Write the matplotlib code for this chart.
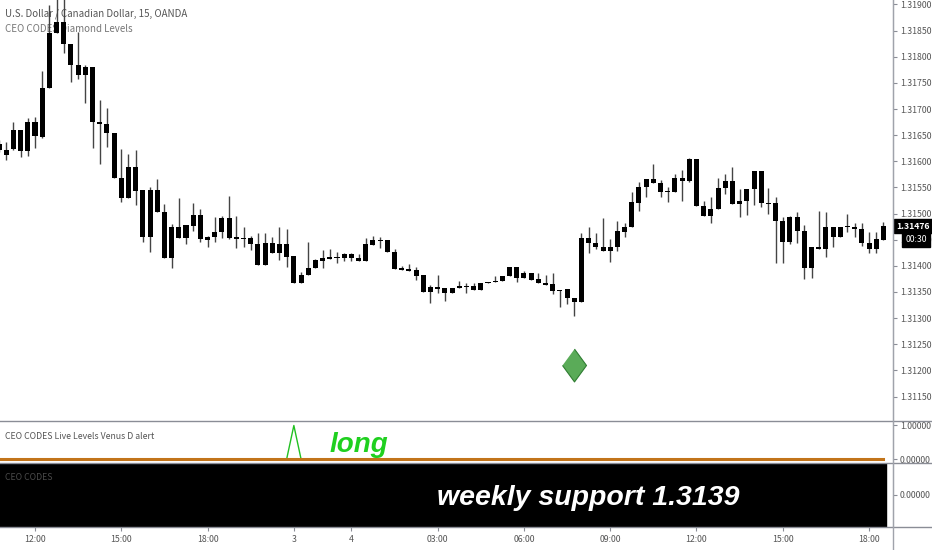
import numpy as np
import matplotlib.pyplot as plt
from matplotlib.lines import Line2D
from matplotlib.ticker import FormatStrFormatter
import matplotlib.transforms as mtransforms

plt.rcParams['font.family'] = ['Noto Sans CJK JP', 'DejaVu Sans']

# USDCAD 15 min candles (first bar sits 5 bars before 12:00)
opens = [1.31633, 1.31622, 1.31624, 1.31660, 1.31620, 1.31675, 1.31647, 1.31740, 1.31846, 1.31867,
         1.31824, 1.31784, 1.31765, 1.31780, 1.31675, 1.31671, 1.31654, 1.31568, 1.31530, 1.31589,
         1.31545, 1.31455, 1.31545, 1.31503, 1.31415, 1.31474, 1.31453, 1.31476, 1.31497, 1.31455,
         1.31455, 1.31465, 1.31492, 1.31455, 1.31453, 1.31453, 1.31442, 1.31402, 1.31444, 1.31425,
         1.31442, 1.31419, 1.31367, 1.31383, 1.31396, 1.31409, 1.31413, 1.31417, 1.31415, 1.31423,
         1.31415, 1.31409, 1.31440, 1.31449, 1.31449, 1.31427, 1.31396, 1.31394, 1.31392, 1.31383,
         1.31350, 1.31360, 1.31358, 1.31348, 1.31358, 1.31361, 1.31361, 1.31354, 1.31367, 1.31369,
         1.31371, 1.31381, 1.31398, 1.31377, 1.31386, 1.31375, 1.31367, 1.31365, 1.31354, 1.31356,
         1.31339, 1.31331, 1.31453, 1.31444, 1.31436, 1.31428, 1.31436, 1.31465, 1.31474, 1.31520,
         1.31551, 1.31566, 1.31559, 1.31541, 1.31541, 1.31568, 1.31562, 1.31604, 1.31515, 1.31495,
         1.31509, 1.31549, 1.31562, 1.31518, 1.31524, 1.31547, 1.31581, 1.31520, 1.31520, 1.31486,
         1.31446, 1.31493, 1.31467, 1.31396, 1.31436, 1.31432, 1.31474, 1.31455, 1.31474, 1.31474,
         1.31471, 1.31444, 1.31432, 1.31449]
highs = [1.31641, 1.31637, 1.31675, 1.31660, 1.31683, 1.31685, 1.31773, 1.31899, 1.31924, 1.31914,
         1.31824, 1.31847, 1.31784, 1.31780, 1.31717, 1.31702, 1.31654, 1.31624, 1.31614, 1.31622,
         1.31545, 1.31551, 1.31566, 1.31518, 1.31480, 1.31530, 1.31478, 1.31520, 1.31509, 1.31457,
         1.31493, 1.31495, 1.31534, 1.31495, 1.31474, 1.31457, 1.31463, 1.31463, 1.31455, 1.31474,
         1.31471, 1.31419, 1.31388, 1.31446, 1.31413, 1.31430, 1.31432, 1.31427, 1.31425, 1.31425,
         1.31423, 1.31453, 1.31457, 1.31455, 1.31449, 1.31432, 1.31400, 1.31404, 1.31398, 1.31383,
         1.31363, 1.31383, 1.31358, 1.31358, 1.31371, 1.31367, 1.31367, 1.31367, 1.31369, 1.31381,
         1.31381, 1.31398, 1.31398, 1.31390, 1.31386, 1.31386, 1.31383, 1.31386, 1.31354, 1.31356,
         1.31339, 1.31463, 1.31474, 1.31463, 1.31492, 1.31451, 1.31486, 1.31482, 1.31541, 1.31560,
         1.31566, 1.31595, 1.31564, 1.31551, 1.31576, 1.31583, 1.31606, 1.31604, 1.31524, 1.31532,
         1.31568, 1.31576, 1.31589, 1.31547, 1.31547, 1.31581, 1.31581, 1.31549, 1.31532, 1.31493,
         1.31495, 1.31503, 1.31478, 1.31436, 1.31505, 1.31503, 1.31474, 1.31474, 1.31499, 1.31482,
         1.31482, 1.31465, 1.31465, 1.31484]
lows = [1.31618, 1.31603, 1.31622, 1.31608, 1.31610, 1.31625, 1.31645, 1.31740, 1.31846, 1.31807,
        1.31752, 1.31757, 1.31712, 1.31625, 1.31595, 1.31627, 1.31568, 1.31522, 1.31530, 1.31516,
        1.31446, 1.31427, 1.31503, 1.31415, 1.31396, 1.31453, 1.31442, 1.31467, 1.31446, 1.31436,
        1.31446, 1.31453, 1.31451, 1.31434, 1.31436, 1.31430, 1.31402, 1.31402, 1.31425, 1.31411,
        1.31398, 1.31367, 1.31367, 1.31383, 1.31396, 1.31396, 1.31413, 1.31406, 1.31409, 1.31409,
        1.31409, 1.31409, 1.31440, 1.31434, 1.31427, 1.31394, 1.31392, 1.31390, 1.31373, 1.31350,
        1.31329, 1.31348, 1.31333, 1.31348, 1.31358, 1.31348, 1.31354, 1.31354, 1.31367, 1.31369,
        1.31371, 1.31381, 1.31369, 1.31377, 1.31373, 1.31367, 1.31363, 1.31346, 1.31321, 1.31327,
        1.31304, 1.31331, 1.31425, 1.31432, 1.31428, 1.31407, 1.31428, 1.31455, 1.31474, 1.31505,
        1.31532, 1.31559, 1.31532, 1.31522, 1.31541, 1.31524, 1.31560, 1.31515, 1.31495, 1.31482,
        1.31509, 1.31537, 1.31518, 1.31493, 1.31497, 1.31516, 1.31513, 1.31499, 1.31406, 1.31406,
        1.31442, 1.31444, 1.31375, 1.31377, 1.31432, 1.31417, 1.31436, 1.31455, 1.31465, 1.31455,
        1.31438, 1.31425, 1.31425, 1.31449]
closes = [1.31622, 1.31612, 1.31660, 1.31620, 1.31675, 1.31648, 1.31740, 1.31846, 1.31867, 1.31824,
          1.31784, 1.31765, 1.31780, 1.31675, 1.31671, 1.31654, 1.31568, 1.31530, 1.31589, 1.31543,
          1.31455, 1.31545, 1.31503, 1.31415, 1.31474, 1.31453, 1.31478, 1.31497, 1.31451, 1.31449,
          1.31465, 1.31492, 1.31453, 1.31451, 1.31451, 1.31442, 1.31402, 1.31444, 1.31425, 1.31442,
          1.31417, 1.31367, 1.31383, 1.31396, 1.31411, 1.31415, 1.31417, 1.31415, 1.31423, 1.31415,
          1.31409, 1.31442, 1.31449, 1.31448, 1.31427, 1.31394, 1.31392, 1.31390, 1.31381, 1.31350,
          1.31360, 1.31356, 1.31348, 1.31358, 1.31361, 1.31360, 1.31354, 1.31367, 1.31369, 1.31371,
          1.31381, 1.31398, 1.31377, 1.31386, 1.31373, 1.31367, 1.31363, 1.31352, 1.31352, 1.31339,
          1.31331, 1.31453, 1.31444, 1.31436, 1.31428, 1.31436, 1.31467, 1.31474, 1.31522, 1.31551,
          1.31566, 1.31559, 1.31541, 1.31543, 1.31568, 1.31562, 1.31604, 1.31515, 1.31495, 1.31509,
          1.31549, 1.31562, 1.31518, 1.31524, 1.31547, 1.31581, 1.31520, 1.31518, 1.31486, 1.31446,
          1.31493, 1.31467, 1.31396, 1.31436, 1.31432, 1.31474, 1.31455, 1.31474, 1.31476, 1.31471,
          1.31444, 1.31432, 1.31451, 1.31476]

first_bar = -5
tick_bars = [0, 12, 24, 36, 44, 56, 68, 80, 92, 104, 116]
tick_labels = ['12:00', '15:00', '18:00', '3', '4', '03:00', '06:00', '09:00', '12:00', '15:00', '18:00']
price_ticks = np.arange(1.3115, 1.31901, 0.0005)

diamond_bar = [75]
diamond_price = [1.31210]
alert_bar = 36

bars = np.arange(first_bar, first_bar + len(opens))
o = np.array(opens); h = np.array(highs); l = np.array(lows); c = np.array(closes)

W, H = 932, 550
fig = plt.figure(figsize=(W / 100, H / 100), dpi=100)
axw = 893 / W
ax = fig.add_axes([0, (H - 421) / H, axw, 421 / H])
ax2 = fig.add_axes([0, (H - 463) / H, axw, 42 / H])
ax3 = fig.add_axes([0, (H - 527) / H, axw, 64 / H])

xlim = (-4.87, 119.33)
grey = '#8a8d96'
txt = '#555555'
big = ['Liberation Sans', 'DejaVu Sans']

for a in (ax, ax2, ax3):
    a.set_xlim(*xlim)
    for s in ('top', 'left', 'bottom'):
        a.spines[s].set_visible(False)
    a.spines['right'].set_color('#a0a3ab')
    a.yaxis.tick_right()
    a.tick_params(axis='y', direction='out', length=3, color=grey,
                  labelsize=6.3, labelcolor=txt, pad=2)
    a.yaxis.set_major_formatter(FormatStrFormatter('%.5f'))
    a.set_facecolor('white')

# main candles
ax.vlines(bars, l, h, color='#444444', lw=1, zorder=3)
body_lo = np.minimum(o, c)
body_h = np.maximum(np.abs(c - o), 0.000015)
ax.bar(bars, body_h, bottom=body_lo, width=0.7, color='black', zorder=4)
ax.scatter(diamond_bar, diamond_price, marker=[(0, 1), (0.73, 0), (0, -1), (-0.73, 0)],
           s=560, color='#5aab58', edgecolor='#2f7d32', lw=0.8, zorder=5)
ax.set_ylim(1.311032, 1.319086)
ax.set_yticks(price_ticks)
ax.set_xticks([])

ax.text(5 / 893, 1 - 14 / 421, 'U.S. Dollar / Canadian Dollar, 15, OANDA', transform=ax.transAxes,
        fontsize=7, color='#555555', va='center', zorder=1)
ax.text(5 / 893, 1 - 29 / 421, 'CEO CODES Diamond Levels', transform=ax.transAxes,
        fontsize=7, color='#777777', va='center', zorder=1)

# last price + countdown boxes
tr = mtransforms.blended_transform_factory(ax.transAxes, ax.transData)
ax.text(1.004, c[-1], f'{c[-1]:.5f}', transform=tr, ha='left', va='center', fontsize=6.3,
        color='white', fontweight='bold', clip_on=False, zorder=10,
        bbox=dict(boxstyle='square,pad=0.3', fc='black', ec='black'))
ax.annotate('00:30', xy=(1.026, c[-1]), xycoords=tr, xytext=(0, -9.4), textcoords='offset points',
            ha='center', va='center', fontsize=6.3, color='white', annotation_clip=False, zorder=10,
            bbox=dict(boxstyle='square,pad=0.35', fc='black', ec='black'))

# alert pane
alert = np.zeros(len(bars))
alert[bars == alert_bar] = 1
ax2.plot(bars, alert, color='#22c022', lw=1, zorder=3)
ax2.plot(bars, np.zeros(len(bars)), color='#c2741a', lw=2.2, zorder=4)
ax2.set_ylim(-0.119, 1.134)
ax2.set_yticks([0, 1])
ax2.set_xticks([])
ax2.text(5 / 893, 0.62, 'CEO CODES Live Levels Venus D alert', transform=ax2.transAxes,
         fontsize=6.3, color=txt, va='center')
ax2.text(330 / 893, 0.262, 'long', transform=ax2.transAxes, fontsize=20, color='#1fd01f',
         family=big, fontweight='bold', fontstyle='italic', va='baseline', ha='left',
         clip_on=False, zorder=6)

# black text pane
ax3.axvspan(xlim[0], bars[-1] + 0.36, color='black', zorder=0)
ax3.set_ylim(-1, 1)
ax3.set_yticks([0])
ax3.text(5 / 893, 0.77, 'CEO CODES', transform=ax3.transAxes, fontsize=6.3, color='#4a4a4a',
         va='center', zorder=2)
ax3.text(437 / 893, 0.344, 'weekly support 1.3139', transform=ax3.transAxes, fontsize=20.5,
         family=big, color='white', fontweight='bold', fontstyle='italic', va='baseline',
         ha='left', zorder=2)
ax3.set_xticks(tick_bars)
ax3.set_xticklabels(tick_labels)
ax3.tick_params(axis='x', direction='out', length=3, color=grey, labelsize=6.3,
                labelcolor=txt, pad=3)

# pane separators and price-scale line
for ypx in (421, 463, 527):
    fig.add_artist(Line2D([0, 1], [1 - ypx / H] * 2, transform=fig.transFigure, color=grey, lw=1))
fig.add_artist(Line2D([axw, axw], [0, 1], transform=fig.transFigure, color='#a0a3ab', lw=1))

fig.savefig('out.png', dpi=100)
